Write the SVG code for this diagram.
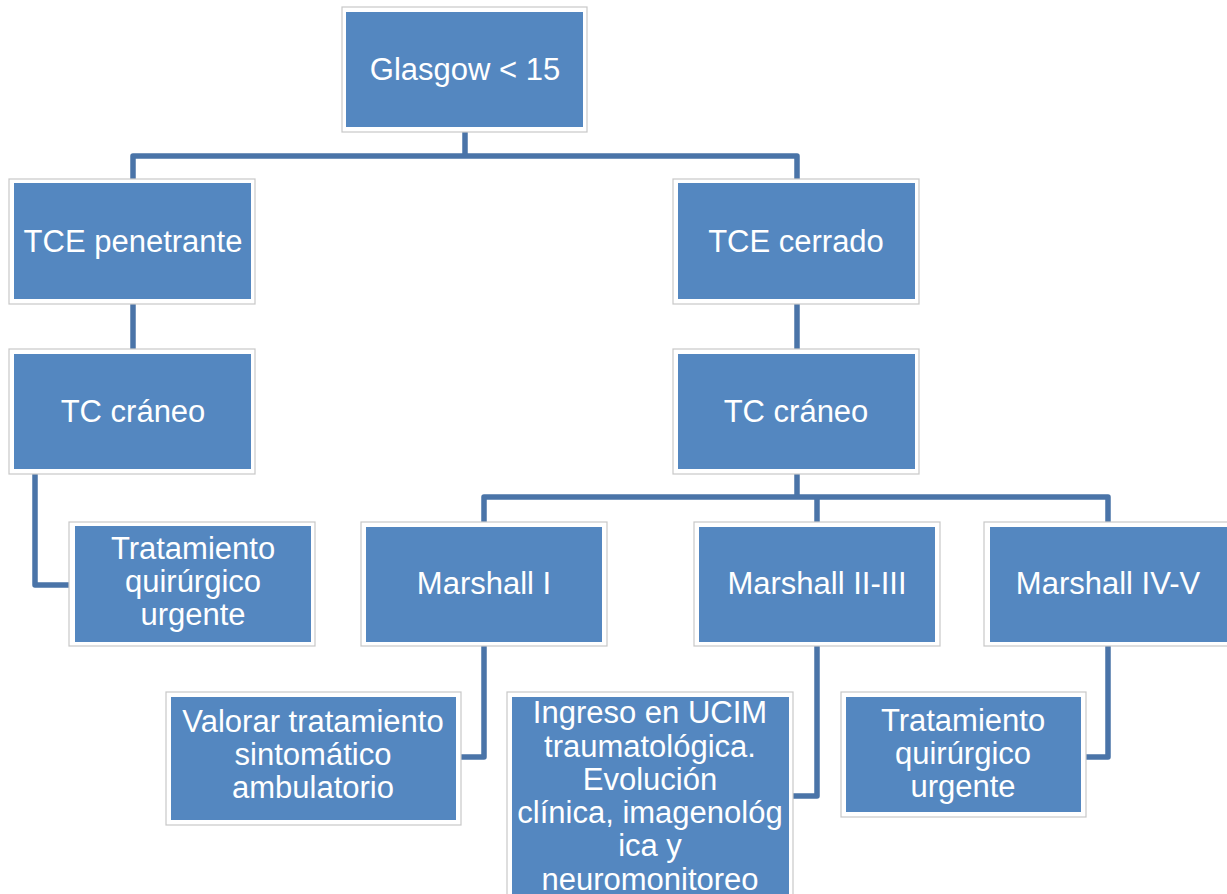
<svg xmlns="http://www.w3.org/2000/svg" width="1227" height="894" viewBox="0 0 1227 894">
<style>
.outer{fill:#ffffff;stroke:#c8c8c8;stroke-width:1.2}
.inner{fill:#5487c0}
.t{font-family:"Liberation Sans",Arial,sans-serif;font-size:31px;fill:#ffffff;text-anchor:middle}
.c{fill:none;stroke:#4a74a8;stroke-width:5.5;stroke-linejoin:round}
</style>
<rect width="1227" height="894" fill="#ffffff"/>
<g id="connectors">
<path class="c" d="M465,132 V156"/>
<path class="c" d="M133,179 V156 H797 V179"/>
<path class="c" d="M133,304 V349"/>
<path class="c" d="M35,474 V585 H69"/>
<path class="c" d="M797,304 V349"/>
<path class="c" d="M797,474 V497"/>
<path class="c" d="M484,522 V497 H1108 V522"/>
<path class="c" d="M817,497 V522"/>
<path class="c" d="M484,646 V757 H461"/>
<path class="c" d="M817,646 V796 H793"/>
<path class="c" d="M1108,646 V757 H1086"/>
</g>
<g id="glasgow">
<rect class="outer" x="342" y="7" width="245" height="125"/>
<rect class="inner" x="346" y="12" width="237" height="115"/>
<text class="t" x="465" y="80">Glasgow &lt; 15</text>
</g>
<g id="tce-penetrante">
<rect class="outer" x="9" y="179" width="246" height="125"/>
<rect class="inner" x="14" y="183" width="237" height="116"/>
<text class="t" x="133" y="252">TCE penetrante</text>
</g>
<g id="tc-craneo-left">
<rect class="outer" x="9" y="349" width="246" height="125"/>
<rect class="inner" x="14" y="354" width="237" height="115"/>
<text class="t" x="133" y="422">TC cráneo</text>
</g>
<g id="trat-left">
<rect class="outer" x="69" y="522" width="246" height="124"/>
<rect class="inner" x="75" y="526" width="236" height="116"/>
<text class="t" x="193" y="559">Tratamiento</text>
<text class="t" x="193" y="592">quirúrgico</text>
<text class="t" x="193" y="625">urgente</text>
</g>
<g id="tce-cerrado">
<rect class="outer" x="673" y="179" width="246" height="125"/>
<rect class="inner" x="678" y="183" width="237" height="116"/>
<text class="t" x="796" y="252">TCE cerrado</text>
</g>
<g id="tc-craneo-right">
<rect class="outer" x="673" y="349" width="246" height="125"/>
<rect class="inner" x="678" y="354" width="237" height="115"/>
<text class="t" x="796" y="422">TC cráneo</text>
</g>
<g id="marshall-1">
<rect class="outer" x="361" y="522" width="246" height="124"/>
<rect class="inner" x="366" y="527" width="236" height="115"/>
<text class="t" x="484" y="594">Marshall I</text>
</g>
<g id="marshall-2-3">
<rect class="outer" x="694" y="522" width="246" height="124"/>
<rect class="inner" x="699" y="527" width="236" height="115"/>
<text class="t" x="817" y="594">Marshall II-III</text>
</g>
<g id="marshall-4-5">
<rect class="outer" x="984" y="522" width="246" height="124"/>
<rect class="inner" x="990" y="527" width="237" height="115"/>
<text class="t" x="1108" y="594">Marshall IV-V</text>
</g>
<g id="valorar">
<rect class="outer" x="166" y="692" width="295" height="133"/>
<rect class="inner" x="171" y="697" width="285" height="123"/>
<text class="t" x="313" y="732">Valorar tratamiento</text>
<text class="t" x="313" y="765">sintomático</text>
<text class="t" x="313" y="798">ambulatorio</text>
</g>
<g id="ingreso">
<rect class="outer" x="507" y="692" width="286" height="210"/>
<rect class="inner" x="512" y="697" width="277" height="205"/>
<text class="t" x="650" y="723">Ingreso en UCIM</text>
<text class="t" x="650" y="757">traumatológica.</text>
<text class="t" x="650" y="790">Evolución</text>
<text class="t" x="650" y="823">clínica, imagenológ</text>
<text class="t" x="650" y="856">ica y</text>
<text class="t" x="650" y="890">neuromonitoreo</text>
</g>
<g id="trat-right">
<rect class="outer" x="841" y="692" width="245" height="125"/>
<rect class="inner" x="846" y="697" width="235" height="115"/>
<text class="t" x="963" y="731">Tratamiento</text>
<text class="t" x="963" y="764">quirúrgico</text>
<text class="t" x="963" y="797">urgente</text>
</g>
</svg>
